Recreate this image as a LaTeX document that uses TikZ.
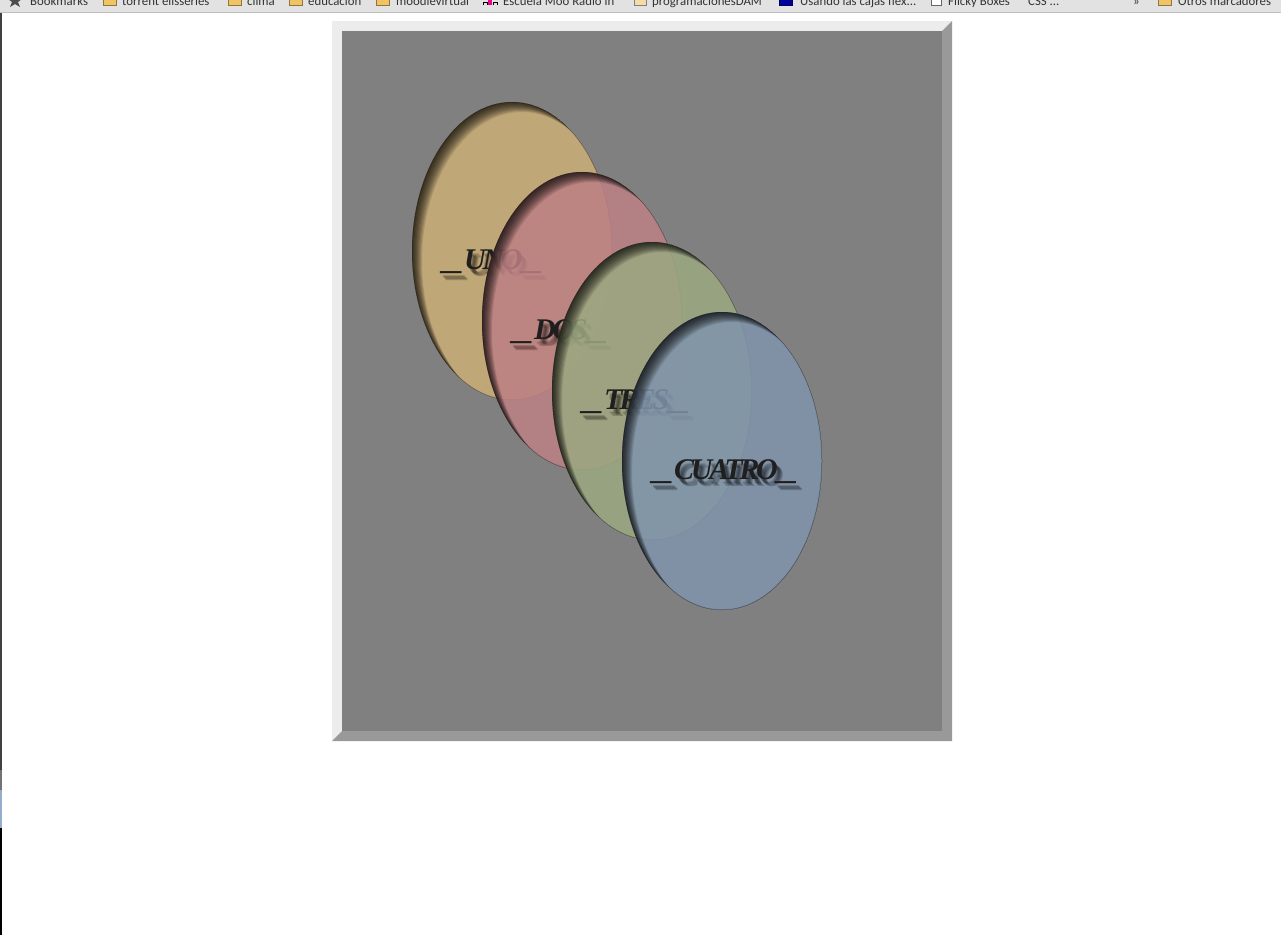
\documentclass[tikz,border=0pt]{standalone}
\usepackage{fontspec}
\setmainfont{Liberation Serif}
\newfontfamily\barfont{Carlito}
\newfontfamily\ovalfont[LetterSpace=-11]{Liberation Serif}
\definecolor{pagegray}{RGB}{128, 128, 128}
\definecolor{framelight}{RGB}{236, 236, 236}
\definecolor{framedark}{RGB}{153, 153, 153}
\definecolor{bargray}{RGB}{226, 226, 226}
\definecolor{barline}{RGB}{190, 190, 190}
\definecolor{folder}{RGB}{240, 196, 100}
\definecolor{edgeblue}{RGB}{150, 172, 205}
\definecolor{ovalyellow}{RGB}{204, 175, 118}
\definecolor{ovalpink}{RGB}{189, 128, 133}
\definecolor{ovalgreen}{RGB}{156, 169, 128}
\definecolor{ovalblue}{RGB}{128, 148, 173}
\usetikzlibrary{calc}
\tikzset{
  barlabel/.style={anchor=base west, inner sep=0pt, font=\barfont\fontsize{12.8}{14}\selectfont, text=black!80},
  baricon/.style={fill=folder, draw=folder!60!black, line width=0.6pt},
  ovaltext/.style={anchor=base west, inner sep=0pt, font=\ovalfont\bfseries\itshape\fontsize{30}{36}\selectfont, text=black!88},
  ovalshade/.style={ovaltext, text=black, text opacity=0.18},
}
\begin{document}
\begin{tikzpicture}[x=1pt, y=-1pt]
  \useasboundingbox (0,0) rectangle (1281,935);
  \fill[white] (0,0) rectangle (1281,935);

  % Browser bookmark bar (cut off at the top)
  \fill[bargray] (0,0) rectangle (1281,12);
  \draw[barline] (0,12) -- (1281,12);
  \begin{scope}
    \clip (0,0) rectangle (1281,11.5);
    \fill[black!70] (15,-6) -- (17,-1) -- (22,-1) -- (18,2) -- (20,7) -- (15,4) -- (10,7) -- (12,2) -- (8,-1) -- (13,-1) -- cycle;
    \node[barlabel] (bmk) at (30,5) {Bookmarks};
    \filldraw[baricon] (103,-5) rectangle (116,5);
    \node[barlabel] (torrent) at (122,5) {torrent elisseries};
    \filldraw[baricon] (228,-5) rectangle (241,5);
    \node[barlabel] (clima) at (247,5) {clima};
    \filldraw[baricon] (289,-5) rectangle (302,5);
    \node[barlabel] (educ) at (308,5) {educacion};
    \filldraw[baricon] (376,-5) rectangle (389,5);
    \node[barlabel] (moodle) at (396,5) {moodlevirtual};
    \fill[magenta] (488,-2) rectangle (492,5);
    \draw[black, line width=0.8pt] (483,5) -- (483,2) -- (487,2) -- (487,5) (493,5) -- (493,2) -- (497,2) -- (497,5);
    \node[barlabel] (escuela) at (503,5) {Escuela Moo Radio in};
    \filldraw[fill=folder!60, draw=black!50] (634,-4) rectangle (646,5);
    \node[barlabel] (progr) at (652,5) {programacionesDAM};
    \filldraw[fill=blue!60!black, draw=blue!40!black] (779,-4) rectangle (792,5);
    \node[barlabel] (cajas) at (800,5) {Usando las cajas flex...};
    \filldraw[fill=white, draw=black!60] (931,-4) rectangle (941,5);
    \node[barlabel] (flicky) at (948,5) {Flicky Boxes};
    \node[barlabel] (css) at (1028,5) {CSS ...};
    \node[barlabel] (more) at (1133,5) {»};
    \filldraw[baricon] (1158,-5) rectangle (1171,5);
    \node[barlabel] (otros) at (1178,5) {Otros marcadores};
  \end{scope}

  % Window edge on the left
  \fill[black!75] (0,13) rectangle (2,770);
  \fill[black!55] (0,770) rectangle (2,790);
  \fill[edgeblue] (0,790) rectangle (2,828);
  \fill[black] (0,828) rectangle (2,935);

  % Outset frame and grey box
  \fill[framelight] (332,21) rectangle (952,741);
  \fill[framedark] (952,21) -- (952,741) -- (332,741) -- (342,731) -- (942,731) -- (942,31) -- cycle;
  \fill[pagegray] (342,31) rectangle (942,731);

  % Four overlapping ovals
  \foreach \cx/\cy/\col/\lbl/\nm in {512/251/ovalyellow/UNO/uno, 582/321/ovalpink/DOS/dos, 652/391/ovalgreen/TRES/tres, 722/461/ovalblue/CUATRO/cuatro}{
    \fill[\col, fill opacity=0.85] (\cx,\cy) ellipse [x radius=100pt, y radius=149pt];
    \begin{scope}
      \clip (\cx,\cy) ellipse [x radius=100pt, y radius=149pt];
      \foreach \k in {1,...,10}
        \fill[black, fill opacity=0.11, even odd rule] (\cx,\cy) ellipse [x radius=100pt, y radius=149pt] (\cx+\k,\cy+\k) ellipse [x radius=100pt, y radius=149pt];
      \draw[black, opacity=0.12, line width=1.5pt] (\cx,\cy) ellipse [x radius=100pt, y radius=149pt];
    \end{scope}
    \foreach \d in {3,4,5,6}
      \node[ovalshade] (\nm shade\d) at ($(\cx-69,\cy+18)+(\d,\d+1)$) {\scalebox{1.4}[1]{\_}\lbl\scalebox{1.4}[1]{\_}};
    \node[ovaltext] (\nm) at (\cx-69,\cy+18) {\scalebox{1.4}[1]{\_}\lbl\scalebox{1.4}[1]{\_}};
  }
\end{tikzpicture}
\end{document}
